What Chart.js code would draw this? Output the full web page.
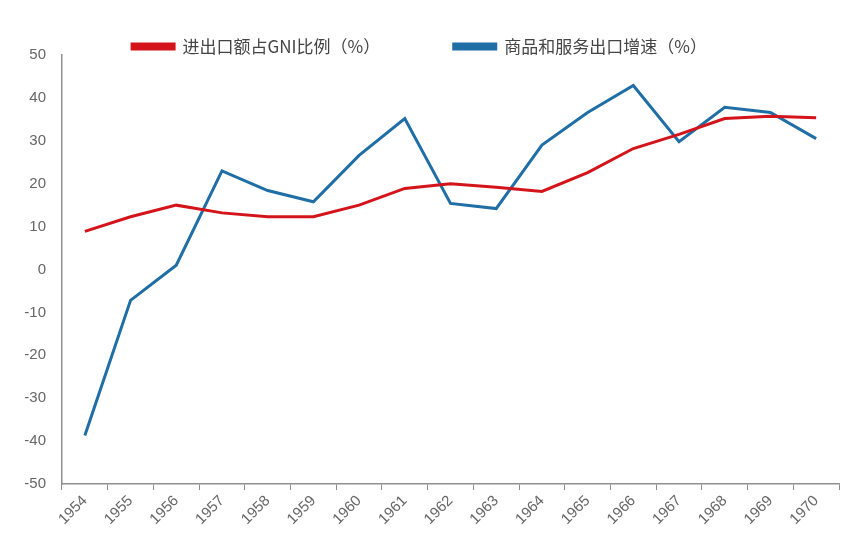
<!DOCTYPE html>
<html>
<head>
<meta charset="utf-8">
<script src="https://cdn.jsdelivr.net/npm/chart.js@4/dist/chart.umd.min.js"></script>
<style>
  html, body { margin: 0; padding: 0; background: #fff; }
  #wrap { width: 867px; height: 539px; }
</style>
</head>
<body>
<div id="wrap"><canvas id="myChart"></canvas></div>
<script>
// values
var years = ['1954', '1955', '1956', '1957', '1958', '1959', '1960', '1961', '1962',
             '1963', '1964', '1965', '1966', '1967', '1968', '1969', '1970'];
var tradeShare = [8.9, 12.3, 15, 13.2, 12.3, 12.3, 15, 18.9, 20, 19.2, 18.2, 22.6, 28.2, 31.5, 35.2, 35.7, 35.4];
var exportGrowth = [-38.7, -7.2, 1, 23, 18.4, 15.8, 26.6, 35.2, 15.4, 14.2, 29, 36.6, 42.9, 29.8, 37.8, 36.6, 30.5];
var seriesNames = ['进出口额占GNI比例（%）', '商品和服务出口增速（%）'];

var red = '#d4141b';
var blue = '#1f6ea5';
var grey = '#666666';
var axisGrey = '#8f8f8f';

// keep the legend short so the plot starts right under it
var legendHeight = {
    id: 'legendHeight',
    afterInit: function (chart) {
        var lg = chart.legend;
        var fit = lg.fit;
        lg.fit = function () {
            fit.call(this);
            this.height = 31;
        };
    }
};

var ctx = document.getElementById('myChart').getContext('2d');
var myLineChart = new Chart(ctx, {
    type: 'line',
    data: {
        labels: years,
        datasets: [{
            label: seriesNames[0],
            data: tradeShare,
            borderColor: red,
            backgroundColor: red,
            borderWidth: 3,
            pointRadius: 0,
            tension: 0
        }, {
            label: seriesNames[1],
            data: exportGrowth,
            borderColor: blue,
            backgroundColor: blue,
            borderWidth: 3,
            pointRadius: 0,
            tension: 0
        }]
    },
    plugins: [legendHeight],
    options: {
        responsive: true,
        maintainAspectRatio: false,
        animation: false,
        layout: { padding: { left: 0, right: 28, top: 24, bottom: 0 } },
        plugins: {
            legend: {
                position: 'top',
                labels: {
                    boxWidth: 42,
                    boxHeight: 5,
                    padding: 14,
                    color: '#444',
                    font: { family: '"Noto Sans CJK SC", sans-serif', size: 17 },
                    generateLabels: function (chart) {
                        var items = Chart.defaults.plugins.legend.labels.generateLabels(chart);
                        // wider gap between the two entries
                        items[0].text = items[0].text + '\u3000\u3000\u3000\u3000';
                        return items;
                    }
                }
            },
            tooltip: { enabled: false }
        },
        scales: {
            x: {
                offset: true,
                afterFit: function (s) { s.height = 55; },
                grid: { display: true, drawOnChartArea: false, drawTicks: true, tickLength: 6, offset: true, color: axisGrey },
                border: { display: true, color: axisGrey, width: 1.5 },
                ticks: {
                    color: grey,
                    padding: 2,
                    maxRotation: 45,
                    minRotation: 45,
                    font: { family: '"Liberation Sans", Arial, sans-serif', size: 15 }
                }
            },
            y: {
                min: -50,
                max: 50,
                afterFit: function (s) { s.width = 62; },
                grid: { display: false },
                border: { display: true, color: axisGrey, width: 1.5 },
                ticks: {
                    stepSize: 10,
                    color: grey,
                    padding: 8,
                    font: { family: '"Liberation Sans", Arial, sans-serif', size: 15 }
                }
            }
        }
    }
});
</script>
</body>
</html>
